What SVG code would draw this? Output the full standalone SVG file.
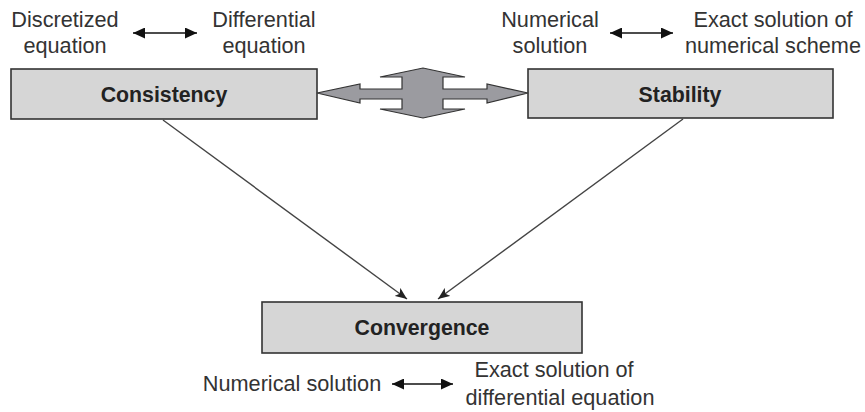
<svg xmlns="http://www.w3.org/2000/svg" width="865" height="412" viewBox="0 0 865 412">
<defs>
<marker id="ah" viewBox="0 0 12 10" refX="12" refY="5" markerWidth="12" markerHeight="10" markerUnits="userSpaceOnUse" orient="auto-start-reverse">
<path d="M0,0 L12,5 L0,10 L3,5 Z" fill="#222"/>
</marker>
<marker id="sh" viewBox="0 0 12 11" refX="12" refY="5.5" markerWidth="12" markerHeight="11" markerUnits="userSpaceOnUse" orient="auto-start-reverse">
<path d="M0,0 L12,5.5 L0,11 Z" fill="#111"/>
</marker>
</defs>
<style>
.box{fill:#d6d6d6;stroke:#333;stroke-width:1.6}
.lbl{font-family:"Liberation Sans",Arial,sans-serif;font-weight:bold;font-size:21.3px;fill:#222;text-anchor:middle}
.t{font-family:"Liberation Sans",Arial,sans-serif;font-size:21.7px;fill:#333;text-anchor:middle}
.con{stroke:#444;stroke-width:1.4;fill:none}
.sm{stroke:#111;stroke-width:1.6;fill:none}
</style>
<rect width="865" height="412" fill="#fff"/>
<g id="consistency">
<rect class="box" x="11" y="69" width="306" height="50"/>
<text class="lbl" x="164" y="102">Consistency</text>
</g>
<g id="stability">
<rect class="box" x="528" y="69" width="305" height="49"/>
<text class="lbl" x="680" y="102">Stability</text>
</g>
<g id="convergence">
<rect class="box" x="262" y="302" width="320" height="51"/>
<text class="lbl" x="422" y="335">Convergence</text>
</g>
<g id="labels">
<text class="t" x="65" y="27">Discretized</text>
<text class="t" x="65" y="53">equation</text>
<text class="t" x="264" y="27">Differential</text>
<text class="t" x="264" y="53">equation</text>
<text class="t" x="550" y="27">Numerical</text>
<text class="t" x="550" y="53">solution</text>
<text class="t" x="773" y="27">Exact solution of</text>
<text class="t" x="773" y="53">numerical scheme</text>
<text class="t" x="292" y="391">Numerical solution</text>
<text class="t" x="554" y="377">Exact solution of</text>
<text class="t" x="560" y="405">differential equation</text>
</g>
<g id="connectors">
<path d="M317,93 L360,84 L360,89 L402,89 L402,77 L380,77 L423,68 L465,77 L443,77 L443,89 L487,89 L487,84 L528,93 L487,103 L487,99 L443,99 L443,109 L465,109 L423,118 L380,109 L402,109 L402,99 L360,99 L360,103 Z" fill="#9b9ba0" stroke="#333" stroke-width="1.2" stroke-linejoin="miter"/>
<line class="con" x1="163" y1="120" x2="407" y2="299" marker-end="url(#ah)"/>
<line class="con" x1="683" y1="119" x2="438" y2="299" marker-end="url(#ah)"/>
<line class="sm" x1="133" y1="33" x2="197" y2="33" marker-start="url(#sh)" marker-end="url(#sh)"/>
<line class="sm" x1="610" y1="33" x2="673" y2="33" marker-start="url(#sh)" marker-end="url(#sh)"/>
<line class="sm" x1="392" y1="384" x2="453" y2="384" marker-start="url(#sh)" marker-end="url(#sh)"/>
</g>
</svg>
